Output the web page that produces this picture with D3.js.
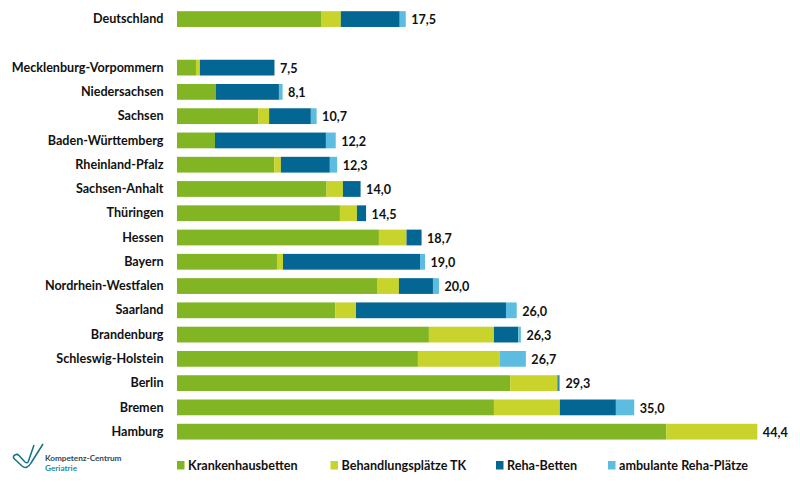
<!DOCTYPE html>
<html>
<head>
<meta charset="utf-8">
<script src="https://cdn.jsdelivr.net/npm/d3@7"></script>
<style>
  html, body { margin: 0; padding: 0; background: #fff; }
  text { font-family: Lato, "Open Sans", sans-serif; fill: #111; }
</style>
</head>
<body>
<svg id="chart" width="800" height="484"></svg>
<script>
// the empty name makes the gap under Deutschland
var regions = ["Deutschland", "", "Mecklenburg-Vorpommern", "Niedersachsen", "Sachsen", "Baden-Württemberg",
    "Rheinland-Pfalz", "Sachsen-Anhalt", "Thüringen", "Hessen", "Bayern", "Nordrhein-Westfalen",
    "Saarland", "Brandenburg", "Schleswig-Holstein", "Berlin", "Bremen", "Hamburg"];
var totals = ["17,5", "", "7,5", "8,1", "10,7", "12,2", "12,3", "14,0", "14,5", "18,7", "19,0", "20,0", "26,0", "26,3", "26,7", "29,3", "35,0", "44,4"];

var krankenhausbetten = [11.05, 0, 1.45, 2.98, 6.2, 2.9, 7.43, 11.43, 12.45, 15.43, 7.64, 15.33, 12.1, 19.25, 18.41, 25.46, 24.22, 37.4];
var behandlungsplaetze = [1.47, 0, 0.3, 0, 0.84, 0, 0.51, 1.25, 1.3, 2.11, 0.46, 1.63, 1.58, 4.97, 6.26, 3.62, 5.04, 6.95];
var rehaBetten = [4.5, 0, 5.7, 4.81, 3.19, 8.48, 3.74, 1.35, 0.7, 1.15, 10.47, 2.6, 11.46, 1.86, 0, 0.1, 4.28, 0];
var rehaPlaetze = [0.46, 0, 0, 0.28, 0.44, 0.75, 0.56, 0, 0, 0, 0.38, 0.46, 0.82, 0.2, 1.99, 0.08, 1.4, 0];

var seriesNames = ["Krankenhausbetten", "Behandlungsplätze TK", "Reha-Betten", "ambulante Reha-Plätze"];
var seriesColors = ["#82b523", "#c8d32c", "#046692", "#5cbde0"];

var rows = regions.map(function(name, i) {
    return {
        name: name,
        total: totals[i],
        [seriesNames[0]]: krankenhausbetten[i],
        [seriesNames[1]]: behandlungsplaetze[i],
        [seriesNames[2]]: rehaBetten[i],
        [seriesNames[3]]: rehaPlaetze[i]
    };
});

var svg = d3.select("#chart");

var x = d3.scaleLinear().domain([0, 44.4]).range([177, 758]);
var y = d3.scaleBand()
    .domain(d3.range(regions.length))
    .range([6.95, 443.8])
    .paddingInner(0.35)
    .paddingOuter(0.175);
var color = d3.scaleOrdinal().domain(seriesNames).range(seriesColors);

var stacked = d3.stack().keys(seriesNames)(rows);

// bars
svg.append("g")
    .selectAll("g")
    .data(stacked)
    .enter()
    .append("g")
    .attr("fill", d => color(d.key))
    .selectAll("rect")
    .data(d => d)
    .enter()
    .append("rect")
    .attr("x", d => x(d[0]))
    .attr("y", (d, i) => y(i))
    .attr("width", d => x(d[1]) - x(d[0]))
    .attr("height", y.bandwidth());

// region names on the left
svg.append("g")
    .selectAll("text")
    .data(rows)
    .enter()
    .append("text")
    .attr("x", 163.5)
    .attr("y", (d, i) => y(i) + y.bandwidth() / 2)
    .attr("dy", "0.33em")
    .attr("text-anchor", "end")
    .attr("font-weight", 700)
    .attr("font-size", 12.6)
    .text(d => d.name);

// totals behind the bars
svg.append("g")
    .selectAll("text")
    .data(rows)
    .enter()
    .append("text")
    .attr("x", d => x(d3.sum(seriesNames, k => d[k])) + 5.5)
    .attr("y", (d, i) => y(i) + y.bandwidth() / 2)
    .attr("dy", "0.42em")
    .attr("font-weight", 700)
    .attr("font-size", 12.6)
    .text(d => d.total);

// legend
var legendX = [177, 330.5, 496, 608];
var legend = svg.append("g")
    .selectAll("g")
    .data(seriesNames)
    .enter()
    .append("g")
    .attr("transform", (d, i) => "translate(" + legendX[i] + ",461)");

legend.append("rect")
    .attr("width", 7.5)
    .attr("height", 8.5)
    .attr("fill", d => color(d));

legend.append("text")
    .attr("x", 11)
    .attr("y", 4.5)
    .attr("dy", "0.35em")
    .attr("font-weight", 700)
    .attr("font-size", 12.6)
    .text(d => d);

// logo
var logo = svg.append("g");
logo.append("path")
    .attr("d", "M43 444 L31 463 Q27 470 22 466 L14.5 459 Q12 456.5 15 455 Q17 453.5 19 455.5 L25 462 Q27.5 464 28.5 461 L34 445")
    .attr("fill", "none")
    .attr("stroke", "#136f86")
    .attr("stroke-width", 1.5);

logo.append("text")
    .attr("x", 45)
    .attr("y", 461)
    .attr("font-weight", 700)
    .attr("font-size", 8.2)
    .style("fill", "#2d4a57")
    .text("Kompetenz-Centrum");

logo.append("text")
    .attr("x", 45)
    .attr("y", 470.5)
    .attr("font-weight", 700)
    .attr("font-size", 8.2)
    .style("fill", "#1f8aa0")
    .text("Geriatrie");
</script>
</body>
</html>
